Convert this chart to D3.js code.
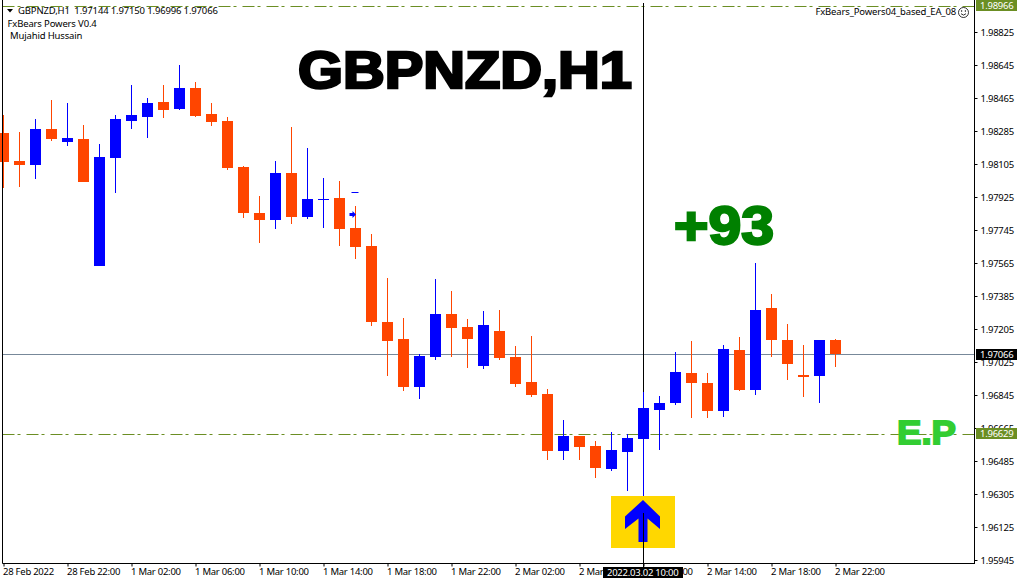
<!DOCTYPE html>
<html>
<head>
<meta charset="utf-8">
<script src="https://cdn.jsdelivr.net/npm/d3@7/dist/d3.min.js"></script>
<style>
html,body{margin:0;padding:0;background:#fff;overflow:hidden}
svg{display:block}
.small{font-family:"Noto Sans","Open Sans",sans-serif;font-size:9.5px;letter-spacing:-0.25px;fill:#000}
.head{letter-spacing:-0.15px}
.big{font-family:"Liberation Sans",Arial,sans-serif;font-weight:700}
</style>
</head>
<body>
<svg id="c" width="1020" height="584"></svg>
<script>
const opens  = [1.98274,1.98121,1.98100,1.98296,1.98225,1.98241,1.97549,1.98138,1.98340,1.98361,1.98443,1.98405,1.98520,1.98378,1.98340,1.98089,1.97838,1.97800,1.98056,1.97816,1.97909,1.97920,1.97756,1.97658,1.97243,1.97150,1.96889,1.97052,1.97287,1.97216,1.97003,1.97194,1.97052,1.96916,1.96850,1.96540,1.96621,1.96567,1.96441,1.96534,1.96605,1.96763,1.96801,1.96965,1.96910,1.96758,1.97090,1.96872,1.97320,1.97145,1.96954,1.96949,1.97144];
const highs  = [1.98372,1.98280,1.98350,1.98454,1.98438,1.98318,1.98214,1.98372,1.98536,1.98465,1.98536,1.98645,1.98552,1.98438,1.98361,1.98094,1.97930,1.98121,1.98307,1.98192,1.98029,1.98012,1.97876,1.97723,1.97483,1.97265,1.97069,1.97478,1.97412,1.97260,1.97303,1.97309,1.97112,1.97167,1.96878,1.96709,1.96621,1.96594,1.96643,1.96632,1.96861,1.96840,1.97080,1.97140,1.96965,1.97118,1.97161,1.97565,1.97396,1.97232,1.97118,1.97145,1.97150];
const lows   = [1.97974,1.97980,1.98023,1.98230,1.98203,1.98007,1.97549,1.97947,1.98296,1.98247,1.98356,1.98400,1.98361,1.98312,1.98072,1.97810,1.97674,1.97750,1.97778,1.97805,1.97756,1.97658,1.97587,1.97221,1.96949,1.96867,1.96823,1.97036,1.97052,1.96992,1.96987,1.97036,1.96889,1.96834,1.96490,1.96490,1.96490,1.96392,1.96430,1.96321,1.96272,1.96545,1.96790,1.96720,1.96720,1.96725,1.96867,1.96845,1.97052,1.96927,1.96834,1.96801,1.96996];
const closes = [1.98116,1.98100,1.98296,1.98241,1.98247,1.98007,1.98143,1.98350,1.98372,1.98438,1.98400,1.98520,1.98367,1.98334,1.98083,1.97838,1.97800,1.98056,1.97816,1.97914,1.97914,1.97750,1.97652,1.97243,1.97140,1.96889,1.97058,1.97287,1.97210,1.97150,1.97227,1.97047,1.96905,1.96845,1.96540,1.96621,1.96561,1.96447,1.96545,1.96610,1.96774,1.96801,1.96970,1.96910,1.96758,1.97096,1.96872,1.97309,1.97145,1.97014,1.96943,1.97145,1.97066];

const priceTicks = [1.98825,1.98645,1.98465,1.98285,1.98105,1.97925,1.97745,1.97565,1.97385,1.97205,1.97025,1.96845,1.96665,1.96485,1.96305,1.96125,1.95945];
const timeTickBars = [0,4,8,12,16,20,24,28,32,36,40,44,48,52];
const timeTickLabels = ["28 Feb 2022","28 Feb 22:00","1 Mar 02:00","1 Mar 06:00","1 Mar 10:00","1 Mar 14:00","1 Mar 18:00","1 Mar 22:00","2 Mar 02:00","2 Mar 06:00","2 Mar 10:00","2 Mar 14:00","2 Mar 18:00","2 Mar 22:00"];

const bidPrice = 1.97066;
const entryPrice = 1.96629;
const topLevel = 1.98966;
const signalBar = 40;
const signalPrice = 1.96125;
const crossLabel = "2022.03.02 10:00";
const headerText = "GBPNZD,H1  1.97144 1.97150 1.96996 1.97066";
const indicatorText = ["FxBears Powers V0.4","Mujahid Hussain"];
const eaText = "FxBears_Powers04_based_EA_08";
const titleText = "GBPNZD,H1";
const profitText = "+93";
const entryText = "E.P";
const markerBar = 21.75;
const markerDash = 1.97952;
const markerArrow = 1.97830;

const UP = "#0000ff", DOWN = "#ff4500", OLIVE = "#6b8e23", GREY = "#778899";
const x = d3.scaleLinear().domain([0,60]).range([3.5,963.5]);
const y = d3.scaleLinear().domain([1.98825,1.95945]).range([32,560]);
const svg = d3.select("#c");
const L = 2.5, R = 974.5, B = 563.5;

/* horizontal levels */
function level(p, col, dash, x2){
  const yy = Math.floor(y(p)) + 0.5;
  svg.append("line").attr("x1",L).attr("x2",x2).attr("y1",yy).attr("y2",yy)
    .attr("stroke",col).attr("stroke-width",1).attr("stroke-dasharray",dash||null);
}
level(topLevel, OLIVE, "12,3,3,6", R);
level(entryPrice, OLIVE, "12,3,3,6", R);
level(bidPrice, GREY, null, R);

/* crosshair, behind the candles */
const cx = Math.floor(x(signalBar)) + 0.5;
svg.append("line").attr("x1",cx).attr("x2",cx).attr("y1",3).attr("y2",B+4).attr("stroke","#000");

/* candles */
const idx = d3.range(closes.length);
const g = svg.append("g");
g.selectAll("line").data(idx).join("line")
  .attr("x1",i=>Math.floor(x(i))+0.5).attr("x2",i=>Math.floor(x(i))+0.5)
  .attr("y1",i=>Math.round(y(highs[i]))).attr("y2",i=>Math.round(y(lows[i])))
  .attr("stroke",i=>closes[i]>=opens[i]?UP:DOWN).attr("stroke-width",1);
g.selectAll("rect").data(idx).join("rect")
  .attr("x",i=>Math.floor(x(i))-5).attr("width",11)
  .attr("y",i=>Math.round(y(Math.max(opens[i],closes[i]))))
  .attr("height",i=>Math.max(1,Math.round(y(Math.min(opens[i],closes[i])))-Math.round(y(Math.max(opens[i],closes[i])))))
  .attr("fill",i=>closes[i]>=opens[i]?UP:DOWN);

/* small markers */
const mx = x(markerBar);
svg.append("rect").attr("x",mx+0).attr("y",Math.round(y(markerDash))).attr("width",7).attr("height",1).attr("fill",UP);
svg.append("path").attr("fill",UP)
  .attr("transform",`translate(${mx},${y(markerArrow)})`)
  .attr("d","M-2,-1.5H1V-3.5L4.5,0L1,3.5V1.5H-2Z");

/* signal arrow on its yellow square */
const ax = x(signalBar), ay = y(signalPrice);
svg.append("rect").attr("x",ax-32.5).attr("y",ay-31).attr("width",64).attr("height",52).attr("fill","#ffd700");
svg.append("path").attr("fill",UP)
  .attr("transform",`translate(${ax-0.5},${ay+1})`)
  .attr("d","M0,-28L17,-11.5V1L4.5,-9.5V14H-4.5V-9.5L-18,1V-11.5Z");
svg.append("line").attr("x1",cx).attr("x2",cx).attr("y1",513).attr("y2",B+4).attr("stroke","#000");

/* big texts */
svg.append("text").attr("class","big").attr("x",298).attr("y",88).attr("font-size",52)
  .attr("textLength",334).attr("lengthAdjust","spacingAndGlyphs")
  .attr("fill","#000").attr("stroke","#000").attr("stroke-width",2.6).text(titleText);
svg.append("text").attr("class","big").attr("x",674).attr("y",244).attr("font-size",54)
  .attr("textLength",100).attr("lengthAdjust","spacingAndGlyphs")
  .attr("fill","#008000").attr("stroke","#008000").attr("stroke-width",2.4).text(profitText);
svg.append("text").attr("class","big").attr("x",897).attr("y",443.5).attr("font-size",34)
  .attr("textLength",59).attr("lengthAdjust","spacingAndGlyphs")
  .attr("fill","#32cd32").attr("stroke","#32cd32").attr("stroke-width",1.8).text(entryText);

/* axes */
const yAxis = d3.axisRight(y).tickValues(priceTicks).tickFormat(d3.format(".5f")).tickSize(3).tickPadding(3);
const ya = svg.append("g").attr("transform",`translate(${R},0)`).call(yAxis);
ya.select(".domain").remove();
ya.selectAll(".tick line").attr("stroke","#000");
ya.selectAll(".tick text").attr("class","small").attr("x",6);
svg.append("line").attr("x1",R).attr("x2",R).attr("y1",0).attr("y2",B+0.5).attr("stroke","#000");

const xAxis = d3.axisBottom(x).tickValues(timeTickBars).tickFormat((d,i)=>timeTickLabels[i]).tickSize(3);
const xa = svg.append("g").attr("transform",`translate(0,${B})`).call(xAxis);
xa.select(".domain").remove();
xa.selectAll(".tick line").attr("stroke","#000");
xa.selectAll(".tick text").attr("class","small").attr("text-anchor","start").attr("x",-1).attr("y",5);
svg.append("line").attr("x1",L).attr("x2",R).attr("y1",B).attr("y2",B).attr("stroke","#000");
svg.append("line").attr("x1",L).attr("x2",L).attr("y1",0).attr("y2",B).attr("stroke","#000");

/* price and time tags */
function tag(p, col, txtCol, off){
  const t = Math.max(0, Math.round(y(p))-off);
  svg.append("rect").attr("x",976).attr("y",t).attr("width",41).attr("height",11).attr("fill",col);
  svg.append("text").attr("class","small").attr("x",980).attr("y",t+5.5).attr("dy","0.34em").style("fill",txtCol).text(d3.format(".5f")(p));
}
tag(topLevel, OLIVE, "#fff", 6);
tag(entryPrice, OLIVE, "#fff", 7);
tag(bidPrice, "#000", "#fff", 5);
svg.append("rect").attr("x",603).attr("y",567).attr("width",80).attr("height",11).attr("fill","#000");
svg.append("text").attr("class","small").attr("x",607).attr("y",572.5).attr("dy","0.34em").style("fill","#fff").text(crossLabel);

/* header */
svg.append("path").attr("d","M7,9H13L10,12.5Z").attr("fill","#000");
svg.append("text").attr("class","small head").attr("x",18).attr("y",10.5).attr("dy","0.34em").style("white-space","pre").text(headerText);
svg.append("text").attr("class","small head").attr("x",7.5).attr("y",24).attr("dy","0.34em").text(indicatorText[0]);
svg.append("text").attr("class","small head").attr("x",10).attr("y",35.5).attr("dy","0.34em").text(indicatorText[1]);
svg.append("text").attr("class","small head").attr("x",956).attr("y",11.5).attr("dy","0.34em").attr("text-anchor","end").text(eaText);

/* smiley */
const s = svg.append("g").attr("transform","translate(963.5,12.5)").attr("fill","none").attr("stroke","#000").attr("stroke-width",0.8);
s.append("circle").attr("r",5);
s.append("path").attr("d","M-2.5,1.2Q0,4 2.5,1.2");
s.append("circle").attr("cx",-1.8).attr("cy",-1.5).attr("r",0.4);
s.append("circle").attr("cx",1.8).attr("cy",-1.5).attr("r",0.4);
</script>
</body>
</html>
